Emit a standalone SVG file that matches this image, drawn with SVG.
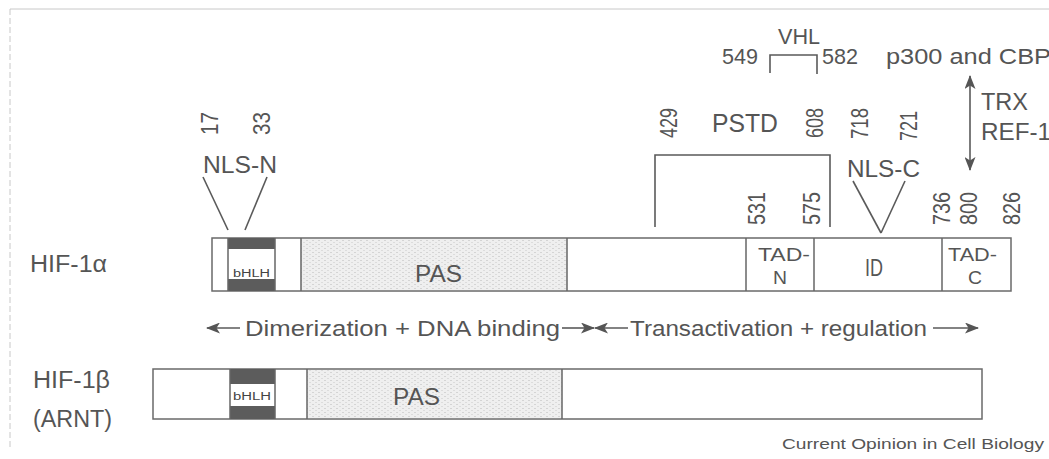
<svg xmlns="http://www.w3.org/2000/svg" width="1049" height="459" viewBox="0 0 1049 459">
<style>
  text { font-family: "Liberation Sans", Arial, sans-serif; fill: #555; }
  .lbl { font-size: 23px; }
  .mid { font-size: 22px; }
  .tad { font-size: 19px; }
  .num { font-size: 23px; }
  .sm { font-size: 10px; fill: #444; }
  .bar { fill: #fff; stroke: #6a6a6a; stroke-width: 1.5; }
  .div { stroke: #666; stroke-width: 1.5; fill: none; }
  .ln { stroke: #5a5a5a; stroke-width: 1.6; fill: none; }
  .dark { fill: #5c5c5c; }
  .shade { fill: url(#dots); }
  .frame { stroke: #c8c8c8; stroke-width: 1; fill: none; }
</style>
<defs>
  <pattern id="dots" width="6" height="4" patternUnits="userSpaceOnUse">
    <rect width="6" height="4" fill="#efefef"/>
    <rect x="0" y="0" width="2" height="1" fill="#d4d4d4"/>
    <rect x="3" y="2" width="2" height="1" fill="#dcdcdc"/>
  </pattern>
  <marker id="head" viewBox="0 0 14 11" refX="13" refY="5.5" markerWidth="14" markerHeight="11" markerUnits="userSpaceOnUse" orient="auto-start-reverse">
    <path d="M0,0 L14,5.5 L0,11 L3.5,5.5 z" fill="#555"/>
  </marker>
</defs>

<g id="frame">
  <line class="frame" x1="10" y1="9" x2="1049" y2="9"/>
  <line class="frame" x1="10" y1="9" x2="10" y2="448" stroke-dasharray="6 3"/>
</g>

<g id="hif1a">
  <rect class="bar" x="212" y="238" width="799" height="53"/>
  <rect class="shade" x="301" y="239" width="266" height="51"/>
  <rect class="dark" x="228" y="238" width="47" height="11"/>
  <rect class="dark" x="228" y="279" width="47" height="12"/>
  <line class="div" x1="228" y1="238" x2="228" y2="291"/>
  <line class="div" x1="275" y1="238" x2="275" y2="291"/>
  <line class="div" x1="301" y1="238" x2="301" y2="291"/>
  <line class="div" x1="567" y1="238" x2="567" y2="291"/>
  <line class="div" x1="746" y1="238" x2="746" y2="291"/>
  <line class="div" x1="814" y1="238" x2="814" y2="291"/>
  <line class="div" x1="942" y1="238" x2="942" y2="291"/>
  <text class="lbl" x="30" y="272" textLength="77" lengthAdjust="spacingAndGlyphs">HIF-1α</text>
  <text class="sm" x="233" y="277" textLength="37" lengthAdjust="spacingAndGlyphs">bHLH</text>
  <text class="lbl" x="415" y="282" textLength="47" lengthAdjust="spacingAndGlyphs">PAS</text>
  <text class="tad" x="758" y="261" textLength="52" lengthAdjust="spacingAndGlyphs">TAD-</text>
  <text class="tad" x="773" y="284" textLength="14" lengthAdjust="spacingAndGlyphs">N</text>
  <text class="lbl" x="865" y="276" textLength="18" lengthAdjust="spacingAndGlyphs">ID</text>
  <text class="tad" x="948" y="261" textLength="49" lengthAdjust="spacingAndGlyphs">TAD-</text>
  <text class="tad" x="968" y="284" textLength="14" lengthAdjust="spacingAndGlyphs">C</text>
</g>

<g id="nls-n">
  <text class="lbl" x="203" y="173" textLength="74" lengthAdjust="spacingAndGlyphs">NLS-N</text>
  <text class="num" transform="translate(218,135) rotate(-90)" textLength="23" lengthAdjust="spacingAndGlyphs">17</text>
  <text class="num" transform="translate(270,135) rotate(-90)" textLength="23" lengthAdjust="spacingAndGlyphs">33</text>
</g>

<g id="pstd">
  <text class="lbl" x="712" y="132" textLength="66" lengthAdjust="spacingAndGlyphs" style="font-size:25px">PSTD</text>
  <text class="num" transform="translate(677,138) rotate(-90)" textLength="30" lengthAdjust="spacingAndGlyphs">429</text>
  <text class="num" transform="translate(823,138) rotate(-90)" textLength="30" lengthAdjust="spacingAndGlyphs">608</text>
</g>

<g id="nls-c">
  <text class="lbl" x="847" y="177" textLength="73" lengthAdjust="spacingAndGlyphs">NLS-C</text>
  <text class="num" transform="translate(868,139) rotate(-90)" textLength="31" lengthAdjust="spacingAndGlyphs">718</text>
  <text class="num" transform="translate(917,141) rotate(-90)" textLength="30" lengthAdjust="spacingAndGlyphs">721</text>
</g>

<g id="positions">
  <text class="num" transform="translate(765,225) rotate(-90)" textLength="33" lengthAdjust="spacingAndGlyphs">531</text>
  <text class="num" transform="translate(820,225) rotate(-90)" textLength="33" lengthAdjust="spacingAndGlyphs">575</text>
  <text class="num" transform="translate(950,225) rotate(-90)" textLength="33" lengthAdjust="spacingAndGlyphs">736</text>
  <text class="num" transform="translate(977,225) rotate(-90)" textLength="33" lengthAdjust="spacingAndGlyphs">800</text>
  <text class="num" transform="translate(1020,225) rotate(-90)" textLength="33" lengthAdjust="spacingAndGlyphs">826</text>
</g>

<g id="vhl">
  <text class="mid" x="778" y="44" textLength="42" lengthAdjust="spacingAndGlyphs">VHL</text>
  <text class="mid" x="722" y="64" textLength="36" lengthAdjust="spacingAndGlyphs">549</text>
  <text class="mid" x="822" y="64" textLength="36" lengthAdjust="spacingAndGlyphs">582</text>
</g>

<g id="p300">
  <text class="mid" x="886" y="64" textLength="165" lengthAdjust="spacingAndGlyphs">p300 and CBP</text>
  <text class="lbl" x="981" y="110" textLength="47" lengthAdjust="spacingAndGlyphs">TRX</text>
  <text class="lbl" x="981" y="140" textLength="70" lengthAdjust="spacingAndGlyphs">REF-1</text>
</g>

<g id="domains-label">
  <text class="mid" x="245" y="336" textLength="315" lengthAdjust="spacingAndGlyphs">Dimerization + DNA binding</text>
  <text class="mid" x="630" y="336" textLength="297" lengthAdjust="spacingAndGlyphs">Transactivation + regulation</text>
</g>

<g id="hif1b">
  <rect class="bar" x="153" y="369" width="829" height="50"/>
  <rect class="shade" x="307" y="370" width="255" height="48"/>
  <rect class="dark" x="230" y="369" width="45" height="15"/>
  <rect class="dark" x="230" y="406" width="45" height="13"/>
  <line class="div" x1="230" y1="369" x2="230" y2="419"/>
  <line class="div" x1="275" y1="369" x2="275" y2="419"/>
  <line class="div" x1="307" y1="369" x2="307" y2="419"/>
  <line class="div" x1="562" y1="369" x2="562" y2="419"/>
  <text class="lbl" x="33" y="388" textLength="77" lengthAdjust="spacingAndGlyphs">HIF-1β</text>
  <text class="lbl" x="33" y="427" textLength="79" lengthAdjust="spacingAndGlyphs">(ARNT)</text>
  <text class="sm" x="233" y="400" textLength="38" lengthAdjust="spacingAndGlyphs">bHLH</text>
  <text class="lbl" x="393" y="405" textLength="47" lengthAdjust="spacingAndGlyphs">PAS</text>
</g>

<g id="credit">
  <text x="782" y="449" style="font-size:15px" textLength="262" lengthAdjust="spacingAndGlyphs">Current Opinion in Cell Biology</text>
</g>

<g id="connectors">
  <line class="ln" x1="203" y1="177" x2="228" y2="230"/>
  <line class="ln" x1="267" y1="177" x2="245" y2="230"/>
  <polyline class="ln" points="655,227 655,155 830,155 830,227"/>
  <line class="ln" x1="853" y1="181" x2="881" y2="233"/>
  <line class="ln" x1="905" y1="181" x2="881" y2="233"/>
  <polyline class="ln" points="770,73 770,55 817,55 817,74"/>
  <line class="ln" x1="970" y1="76" x2="970" y2="170" marker-start="url(#head)" marker-end="url(#head)"/>
  <line class="ln" x1="240" y1="328" x2="207" y2="328" marker-end="url(#head)"/>
  <line class="ln" x1="562" y1="328" x2="594" y2="328" marker-end="url(#head)"/>
  <line class="ln" x1="628" y1="328" x2="595" y2="328" marker-end="url(#head)"/>
  <line class="ln" x1="933" y1="328" x2="978" y2="328" marker-end="url(#head)"/>
</g>
</svg>
